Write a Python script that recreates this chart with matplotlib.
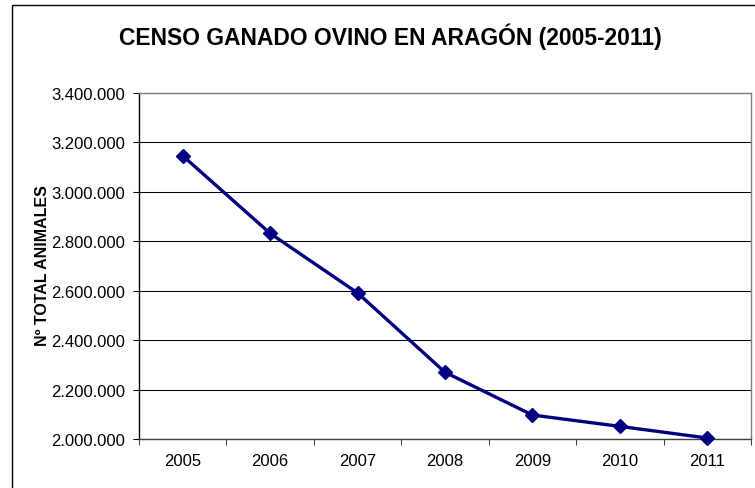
import matplotlib
matplotlib.use('Agg')
import matplotlib.pyplot as plt
from matplotlib.patches import Rectangle
from matplotlib.ticker import FuncFormatter, FixedLocator

years = ['2005', '2006', '2007', '2008', '2009', '2010', '2011']
censo = [3146000, 2832000, 2591000, 2270000, 2097000, 2051000, 2004000]

title = 'CENSO GANADO OVINO EN ARAGÓN (2005-2011)'
ylabel = 'Nº TOTAL ANIMALES'

plt.rcParams['font.family'] = ['Liberation Sans', 'DejaVu Sans']

W, H = 755, 489
fig = plt.figure(figsize=(W / 100, H / 100), dpi=100)
ax = fig.add_axes([139 / W, (H - 440) / H, 612 / W, 346 / H])

# chart area border (cut off at right and bottom like the reference)
fig.patches.append(Rectangle((12 / W, -0.1), 1.2, 1.1 - 6 / H,
                             transform=fig.transFigure, fill=False,
                             edgecolor='black', linewidth=1.0))

x = list(range(len(years)))
ax.plot(x, censo, color='#000080', linewidth=2.4, marker='D',
        markersize=7.5, markerfacecolor='#000080', markeredgecolor='#000080',
        zorder=3, clip_on=False)

ax.set_xlim(-0.5, len(years) - 0.5)
ax.set_ylim(2000000, 3400000)
ax.set_yticks(range(2000000, 3400001, 200000))
ax.yaxis.set_major_formatter(FuncFormatter(lambda v, p: f'{int(v):,}'.replace(',', '.')))
ax.grid(axis='y', color='black', linewidth=0.75)
ax.set_axisbelow(True)

ax.set_xticks(x)
ax.set_xticklabels(years)
ax.xaxis.set_minor_locator(FixedLocator([i - 0.5 for i in range(len(years) + 1)]))
ax.tick_params(axis='x', which='major', length=0, pad=10, labelsize=12)
ax.tick_params(axis='x', which='minor', length=4, width=0.75, color='#404040')
ax.tick_params(axis='y', length=4, width=0.75, pad=6, labelsize=12)

for s in ['top', 'right']:
    ax.spines[s].set_color('#808080')
    ax.spines[s].set_linewidth(1.0)
ax.spines['left'].set_color('black')
ax.spines['left'].set_linewidth(1.0)
ax.spines['bottom'].set_color('#404040')
ax.spines['bottom'].set_linewidth(1.0)

fig.text(390 / W, 1 - 36.5 / H, title, ha='center', va='center',
         fontsize=16.5, fontweight='bold')
fig.text(42.5 / W, 1 - 266 / H, ylabel, ha='center', va='center',
         rotation=90, fontsize=11.5, fontweight='bold')

fig.savefig('out.png', dpi=100)
